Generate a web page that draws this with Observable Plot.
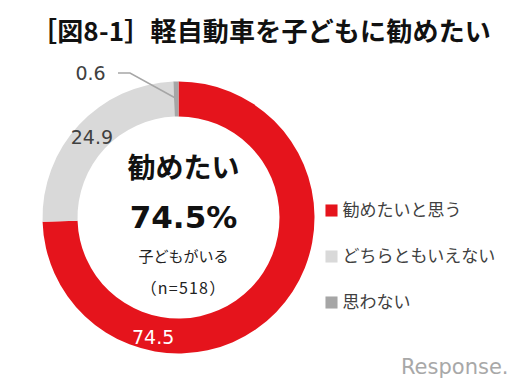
<!DOCTYPE html>
<html><head><meta charset="utf-8">
<script src="https://cdn.jsdelivr.net/npm/d3@7"></script>
<script src="https://cdn.jsdelivr.net/npm/@observablehq/plot@0.6"></script>
<style>
body{margin:0;background:#fff;font-family:"Noto Sans CJK JP",sans-serif;}
#title{height:60px;box-sizing:border-box;padding-top:16px;padding-right:8px;text-align:center;font-size:26px;line-height:27px;font-weight:bold;color:#111;letter-spacing:0.2px;}
</style>
</head><body>
<div id="title"></div>
<div id="chart"></div>
<script>
const titleText = "［図8-1］軽自動車を子どもに勧めたい";
const categories = ["勧めたいと思う", "どちらともいえない", "思わない"];
const values = [74.5, 24.9, 0.6];
const colors = ["#e5141c", "#d9d9d9", "#a6a6a6"];
const centerTitle = "勧めたい";
const centerValue = "74.5%";
const centerSub = "子どもがいる";
const centerN = "（n=518）";
const logoText = "Response.";

const rows = categories.map((c, i) => ({category: c, value: values[i]}));
document.getElementById("title").textContent = titleText;

const cx = 178.5, cy = 157.5, rOut = 136, rIn = 101;
const font = "'Noto Sans CJK JP', sans-serif";
const numFont = "'DejaVu Sans', sans-serif";

function donut(index, scales) {
  const colorOf = scales.color ?? (c => colors[categories.indexOf(c)]);
  const g = d3.create("svg:g").attr("transform", `translate(${cx},${cy})`);
  const arcs = d3.pie().sort(null).value(d => d.value)(rows);
  const arc = d3.arc().innerRadius(rIn).outerRadius(rOut);
  g.selectAll("path").data(arcs).join("path")
    .attr("d", arc).attr("fill", d => colorOf(d.data.category));
  const mid = (rIn + rOut) / 2;
  const pt = (a, r) => [r * Math.sin(a), -r * Math.cos(a)];
  const fmt = v => v.toFixed(1);
  const label = (x, y, v, fill) => g.append("text").attr("x", x).attr("y", y)
    .attr("text-anchor", "middle").attr("dominant-baseline", "central")
    .attr("font-family", numFont).attr("font-size", 19).attr("fill", fill).text(fmt(v));
  // big slice label
  const [x0, y0] = pt(192 * Math.PI / 180, 122);
  label(x0, y0, arcs[0].data.value, "#fff");
  // second slice label at centroid
  const [x1, y1] = pt((arcs[1].startAngle + arcs[1].endAngle) / 2, mid);
  label(x1, y1, arcs[1].data.value, "#404040");
  // small slice label with leader line
  const [x2, y2] = pt((arcs[2].startAngle + arcs[2].endAngle) / 2, 119);
  g.append("path").attr("d", `M-60.5,-144.5L-48.5,-144.5L${x2},${y2}`)
    .attr("fill", "none").attr("stroke", "#a6a6a6").attr("stroke-width", 1.5);
  label(-88, -144.5, arcs[2].data.value, "#404040");
  return g.node();
}

const tcx = 183;
const plot = Plot.plot({
  width: 530, height: 330,
  margin: 0,
  style: {fontFamily: font, background: "#fff"},
  y: {type: "point", domain: categories, range: [150, 242], padding: 0, axis: null},
  color: {domain: categories, range: colors},
  marks: [
    donut,
    Plot.text([centerTitle], {frameAnchor: "top-left", dx: tcx, dy: 109, text: d => d, fontSize: 28, fontWeight: "bold", fill: "#111", textAnchor: "middle", lineAnchor: "middle"}),
    Plot.text([centerValue], {frameAnchor: "top-left", dx: tcx, dy: 158, text: d => d, fontSize: 31, fontWeight: "bold", fill: "#111", textAnchor: "middle", lineAnchor: "middle", fontFamily: numFont}),
    Plot.text([centerSub], {frameAnchor: "top-left", dx: tcx, dy: 197, text: d => d, fontSize: 15, fill: "#222", textAnchor: "middle", lineAnchor: "middle"}),
    Plot.text([centerN], {frameAnchor: "top-left", dx: tcx, dy: 228, text: d => d, fontSize: 16, fill: "#222", textAnchor: "middle", lineAnchor: "middle", className: "nlabel"}),
    Plot.dot(categories, {frameAnchor: "left", y: d => d, fill: d => d, symbol: "square", r: 6.8, dx: 331}),
    Plot.text(categories, {frameAnchor: "left", y: d => d, text: d => d, dx: 342, textAnchor: "start", fontSize: 17, fill: "#404040"}),
    Plot.text([logoText], {frameAnchor: "bottom-right", dx: -22, dy: -17, text: d => d, fontSize: 21, fill: "#a8a8a8", fontFamily: "'DejaVu Sans', sans-serif", textAnchor: "end", lineAnchor: "bottom"})
  ]
});
d3.select(plot).selectAll(".nlabel text").attr("letter-spacing", "1.2px");
document.getElementById("chart").appendChild(plot);
</script>
</body></html>
